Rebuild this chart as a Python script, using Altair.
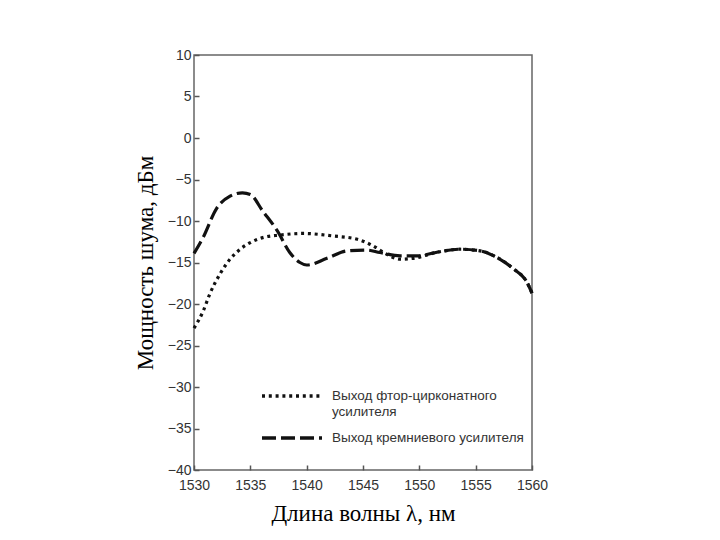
import altair as alt
import pandas as pd

# Fluoro-zirconate amplifier output (dotted)
wl_fz = [1530, 1530.8, 1531.4, 1532.3, 1533.2, 1534.1, 1535, 1536.1, 1537.6, 1539.7,
         1542.3, 1544.5, 1545.9, 1547.1, 1548.3, 1549.4, 1551.8, 1553.6, 1555.4,
         1556.9, 1558.3, 1559.6, 1560]
p_fz = [-22.9, -20.9, -18.8, -16.4, -14.6, -13.4, -12.6, -12.0, -11.7, -11.5,
        -11.8, -12.2, -13.0, -14.0, -14.6, -14.5, -13.7, -13.4, -13.6,
        -14.4, -15.7, -17.5, -18.7]

# Silica amplifier output (dashed)
wl_si = [1530, 1530.8, 1532, 1533.2, 1534.3, 1535, 1536.1, 1537.4, 1538.5, 1539.4,
         1540, 1541.8, 1543.6, 1545.3, 1546.5, 1548.3, 1549.8, 1551.8, 1553.6,
         1555.4, 1556.9, 1558.3, 1559.6, 1560]
p_si = [-13.9, -12.0, -8.5, -7.0, -6.6, -6.8, -8.8, -11.2, -13.8, -15.0,
        -15.3, -14.5, -13.6, -13.5, -13.8, -14.2, -14.2, -13.7, -13.4,
        -13.6, -14.4, -15.7, -17.5, -18.7]

series_names = ["Выход фтор-цирконатного|усилителя", "Выход кремниевого усилителя"]

x_ticks = [1530, 1535, 1540, 1545, 1550, 1555, 1560]
y_ticks = [-40, -35, -30, -25, -20, -15, -10, -5, 0, 5, 10]

df = pd.concat([
    pd.DataFrame({"wl": wl_fz, "p": p_fz, "series": series_names[0]}),
    pd.DataFrame({"wl": wl_si, "p": p_si, "series": series_names[1]}),
])

tick_font = "Liberation Sans Narrow, Arial Narrow, Liberation Sans, sans-serif"
title_font = "Liberation Serif, Times New Roman, serif"

axis_style = dict(
    labelFont=tick_font, labelFontSize=14, labelColor="#333333",
    tickColor="#555555", tickWidth=1.5, labelFlush=False,
    titleFont=title_font, titleFontSize=23, titleFontWeight="normal",
    titleColor="#000000", offset=-5, tickSize=5, domain=False, grid=False,
)

chart = alt.Chart(df).mark_line(
    color="#111111", strokeWidth=3.2, interpolate="monotone"
).encode(
    x=alt.X("wl:Q", scale=alt.Scale(domain=[1530, 1560], nice=False),
            axis=alt.Axis(values=x_ticks, format="d", title="Длина волны λ, нм",
                          labelPadding=8, titlePadding=10, **axis_style)),
    y=alt.Y("p:Q", scale=alt.Scale(domain=[-40, 10], nice=False),
            axis=alt.Axis(values=y_ticks, format="d", title="Мощность шума, дБм",
                          labelPadding=3, titlePadding=10, **axis_style)),
    strokeDash=alt.StrokeDash(
        "series:N",
        scale=alt.Scale(domain=series_names, range=[[3, 3.8], [14, 5]]),
        legend=alt.Legend(
            title=None, orient="none", legendX=106, legendY=329,
            symbolType="M-5,0H1", symbolSize=400, symbolStrokeWidth=3.5,
            symbolStrokeColor="#111111",
            labelExpr="split(datum.label, '|')",
            labelFont=tick_font, labelFontSize=13.5, labelColor="#333333",
            labelLimit=300, labelOffset=8, rowPadding=8,
        ),
    ),
).properties(
    width=338, height=415,
    background="white",
    autosize=alt.AutoSizeParams(type="none"),
    padding={"left": 194, "top": 55, "right": 188, "bottom": 70},
).configure_view(
    stroke="#666666", strokeWidth=1.5,
)

chart.save("out.html", embed_options={"renderer": "svg", "actions": False})
